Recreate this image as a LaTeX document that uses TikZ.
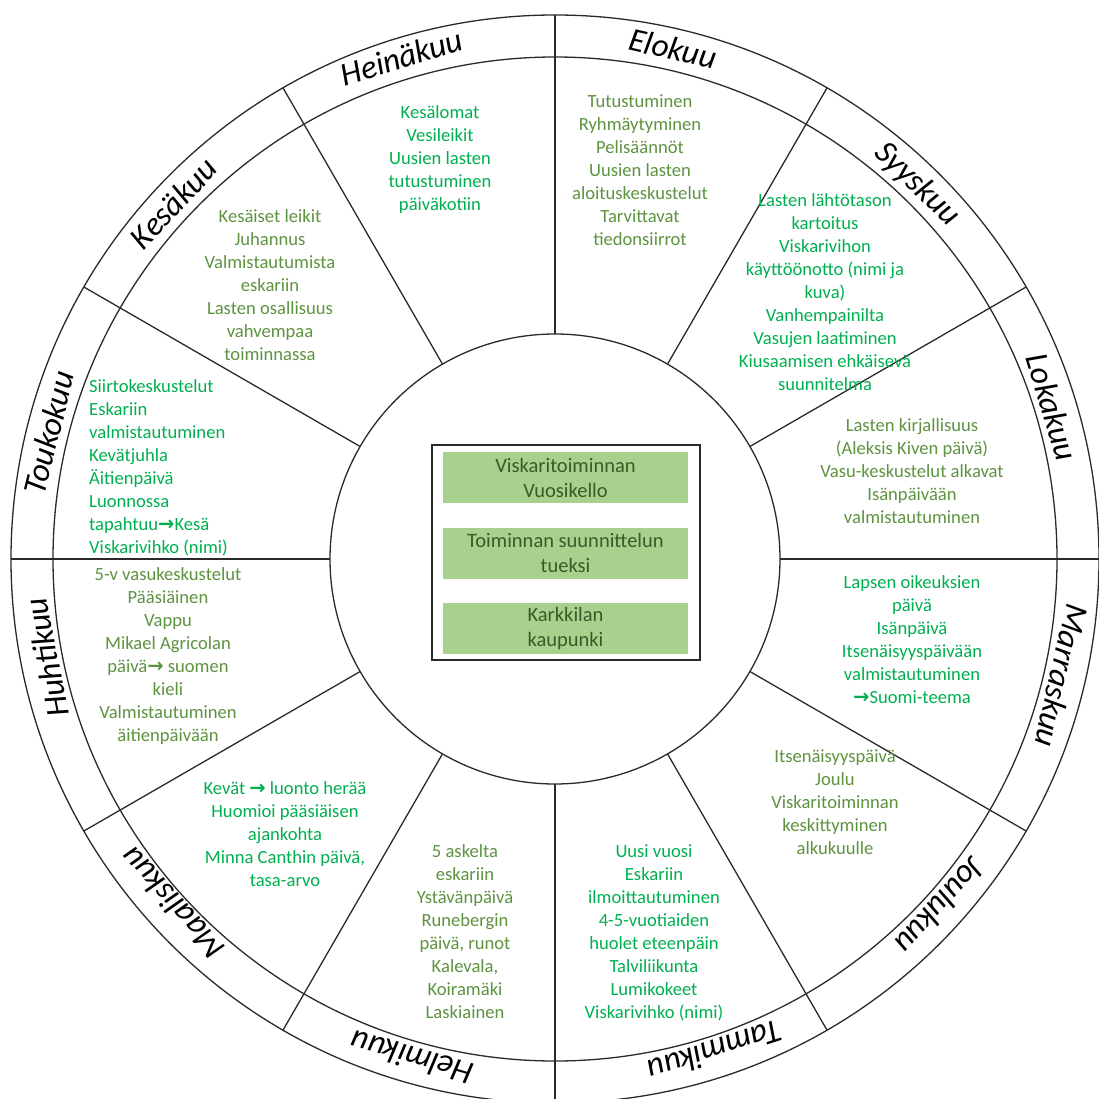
\documentclass[tikz,border=0pt]{standalone}
\usepackage{fontspec}
\setmainfont{Carlito}
\newfontfamily\dvb{DejaVu Sans}
\usetikzlibrary{calc}
\definecolor{bgreen}{HTML}{00B050}
\definecolor{ogreen}{HTML}{5E9340}
\definecolor{boxfill}{HTML}{A9D18E}
\definecolor{boxtext}{HTML}{3A5A28}
\definecolor{linec}{HTML}{2A2A2A}
\newcommand\myarr{{\dvb\bfseries\fontsize{19.5}{23}\selectfont →}}
\tikzset{
 ring/.style={draw=linec, line width=1.3pt},
 month/.style={font=\fontsize{33}{36}\selectfont\itshape, text=black, inner sep=0pt},
 txt/.style={font=\fontsize{18.6}{23}\selectfont, align=center, inner sep=0pt},
 bt/.style={txt, text=bgreen},
 ot/.style={txt, text=ogreen},
 gbox/.style={fill=boxfill, minimum width=245pt, minimum height=51pt, text=boxtext,
   font=\fontsize{20.5}{25}\selectfont, align=center, inner sep=0pt},
}
\begin{document}
\begin{tikzpicture}[x=1pt,y=-1pt]
\useasboundingbox (0,0) rectangle (1099,1099);
\fill[white] (0,0) rectangle (1099,1099);
\coordinate (c) at (555,559);
\draw[ring] (c) circle[radius=544pt];
\draw[ring] (c) circle[radius=502pt];
\draw[ring] (c) circle[radius=225pt];
\foreach \a in {0,30,...,330}
  \draw[ring] ($(c)+(\a:225pt)$) -- ($(c)+(\a:544pt)$);

% month labels
\node[month, rotate=-13]  (m08) at ($(c)+(77:524pt)$)   {Elokuu};
\node[month, rotate=-44]  (m09) at ($(c)+(46:521pt)$)   {Syyskuu};
\node[month, rotate=-73]  (m10) at ($(c)+(17:520pt)$)   {Lokakuu};
\node[month, rotate=-103] (m11) at ($(c)+(-13:520pt)$)  {Marraskuu};
\node[month, rotate=-132] (m12) at ($(c)+(-42:519pt)$)  {Joulukuu};
\node[month, rotate=-162] (m01) at ($(c)+(-72:518pt)$)  {Tammikuu};
\node[month, rotate=-196] (m02) at ($(c)+(-106:519pt)$) {Helmikuu};
\node[month, rotate=-228] (m03) at ($(c)+(-138:515pt)$) {Maaliskuu};
\node[month, rotate=-259] (m04) at ($(c)+(-169:518pt)$) {Huhtikuu};
\node[month, rotate=76]   (m05) at ($(c)+(166:522pt)$)  {Toukokuu};
\node[month, rotate=47]   (m06) at ($(c)+(137:522pt)$)  {Kesäkuu};
\node[month, rotate=17]   (m07) at ($(c)+(107:525pt)$)  {Heinäkuu};

% sector texts
\node[bt] (t07) at (440,160) {Kesälomat\\Vesileikit\\Uusien lasten\\tutustuminen\\päiväkotiin};
\node[ot] (t08) at (640,170) {Tutustuminen\\Ryhmäytyminen\\Pelisäännöt\\Uusien lasten\\aloituskeskustelut\\Tarvittavat\\tiedonsiirrot};
\node[bt] (t09) at (825,292.5) {Lasten lähtötason\\kartoitus\\Viskarivihon\\käyttöönotto (nimi ja\\kuva)\\Vanhempainilta\\Vasujen laatiminen\\Kiusaamisen ehkäisevä\\suunnitelma};
\node[ot] (t10) at (912,471) {Lasten kirjallisuus\\(Aleksis Kiven päivä)\\Vasu-keskustelut alkavat\\Isänpäivään\\valmistautuminen};
\node[bt] (t11) at (912,639.5) {Lapsen oikeuksien\\päivä\\Isänpäivä\\Itsenäisyyspäivään\\valmistautuminen\\\myarr Suomi-teema};
\node[ot] (t12) at (835,802.5) {Itsenäisyyspäivä\\Joulu\\Viskaritoiminnan\\keskittyminen\\alkukuulle};
\node[bt] (t01) at (654,933) {Uusi vuosi\\Eskariin\\ilmoittautuminen\\4-5-vuotiaiden\\huolet eteenpäin\\Talviliikunta\\Lumikokeet\\Viskarivihko (nimi)};
\node[ot] (t02) at (465,932) {5 askelta\\eskariin\\Ystävänpäivä\\Runebergin\\päivä, runot\\Kalevala,\\Koiramäki\\Laskiainen};
\node[bt] (t03) at (285,834) {Kevät \myarr{} luonto herää\\Huomioi pääsiäisen\\ajankohta\\Minna Canthin päivä,\\tasa-arvo};
\node[ot] (t04) at (168,656) {5-v vasukeskustelut\\Pääsiäinen\\Vappu\\Mikael Agricolan\\päivä\myarr{} suomen\\kieli\\Valmistautuminen\\äitienpäivään};
\node[bt, align=left, anchor=west] (t05) at (89,467.5) {Siirtokeskustelut\\Eskariin\\valmistautuminen\\Kevätjuhla\\Äitienpäivä\\Luonnossa\\tapahtuu\myarr Kesä\\Viskarivihko (nimi)};
\node[ot] (t06) at (270,285) {Kesäiset leikit\\Juhannus\\Valmistautumista\\eskariin\\Lasten osallisuus\\vahvempaa\\toiminnassa};

% centre panel
\node[draw=linec, line width=1.2pt, minimum width=268pt, minimum height=215pt, inner sep=0pt] (frame) at (566,552.5) {};
\node[gbox] (b1) at (565.5,477.5) {Viskaritoiminnan\\Vuosikello};
\node[gbox] (b2) at (565.5,553) {Toiminnan suunnittelun\\tueksi};
\node[gbox] (b3) at (565.5,628.5) {Karkkilan\\kaupunki};
\end{tikzpicture}
\end{document}
